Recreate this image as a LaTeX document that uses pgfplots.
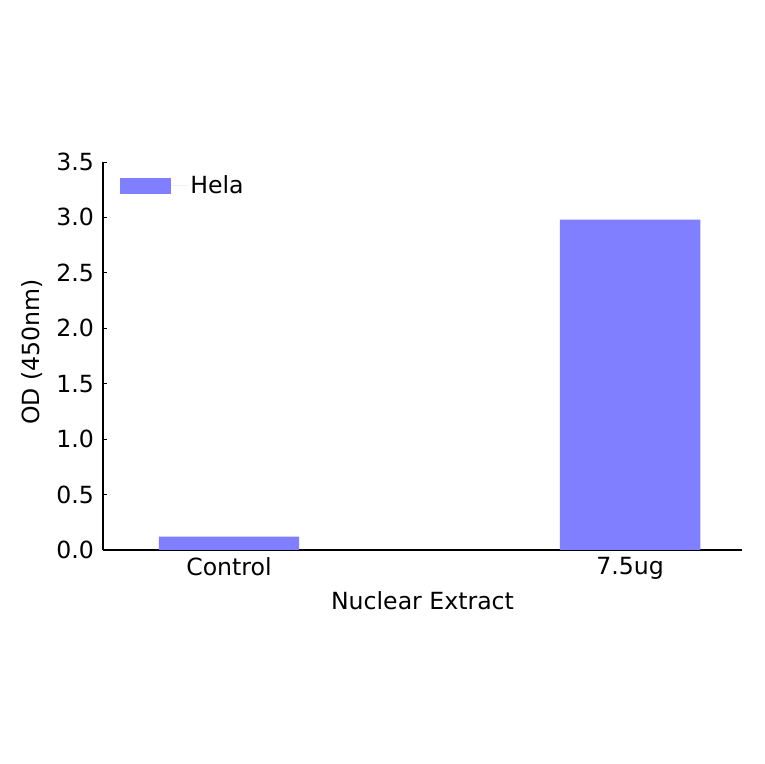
\documentclass[border=0pt]{standalone}
\usepackage{pgfplots}
\pgfplotsset{compat=1.18}
\usepackage{fontspec}
\setmainfont{DejaVu Sans}
\definecolor{barblue}{RGB}{127,127,255}

\begin{document}
\begin{tikzpicture}[font=\fontsize{17pt}{20pt}\selectfont]
  % page frame: 764 x 764 px, 1 px = 0.72pt
  \path[use as bounding box] (0pt,0pt) rectangle (550.08pt,550.08pt);
  \begin{axis}[
      at={(74.16pt,154.08pt)},
      anchor=south west,
      scale only axis,
      width=460.1pt,
      height=279.4pt,
      ybar,
      bar width=0.35,
      bar shift=0pt,
      xmin=-0.314, xmax=1.279,
      ymin=0, ymax=3.5,
      axis x line*=bottom,
      axis y line*=left,
      axis line style={line width=0.8pt},
      tick align=inside,
      major tick length=3pt,
      tick style={black, line width=0.6pt},
      xtick={0,1},
      xticklabels={Control,7.5ug},
      ytick={0,0.5,...,3.5},
      tick label style={font=\fontsize{17pt}{20pt}\selectfont},
      label style={font=\fontsize{17pt}{20pt}\selectfont},
      yticklabel style={xshift=-3pt,/pgf/number format/fixed,/pgf/number format/precision=1,/pgf/number format/fixed zerofill},
      xticklabel style={yshift=-2pt},
      /pgf/number format/assume math mode=true,
      xlabel={Nuclear Extract},
      ylabel={OD (450nm)},
      xlabel style={at={(axis description cs:0.5,-0.131)},anchor=center},
      ylabel style={at={(axis description cs:-0.111,0.51)},anchor=center},
      legend style={draw=none,fill=none,font=\fontsize{17pt}{20pt}\selectfont,
        at={(axis description cs:0.02,0.98)},anchor=north west},
      legend image code/.code={%
        \fill[#1] (0pt,-5.75pt) rectangle (36.7pt,5.75pt);
        \path (36.7pt,0pt) -- (48.5pt,0pt);},
    ]
    \addplot[fill=barblue,draw=none] coordinates {(0,0.12) (1,2.98)};
    \addlegendentry{Hela}
  \end{axis}
\end{tikzpicture}
\end{document}
